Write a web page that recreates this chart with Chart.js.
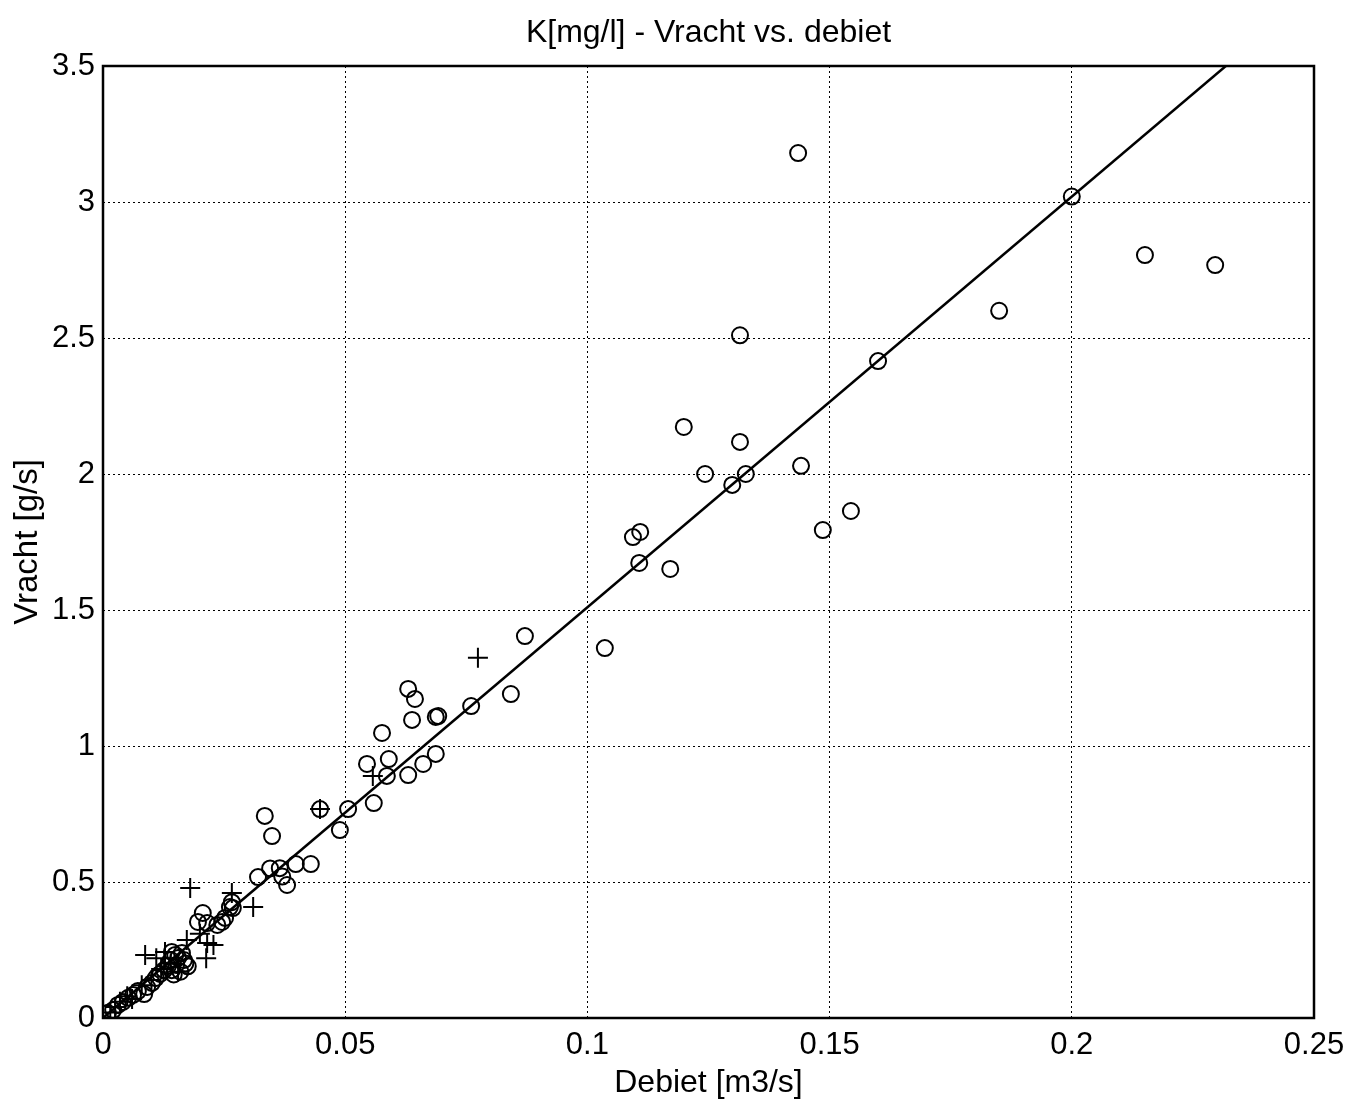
<!DOCTYPE html>
<html>
<head>
<meta charset="utf-8">
<script src="https://cdn.jsdelivr.net/npm/chart.js@4.4.1/dist/chart.umd.min.js"></script>
<style>
  html, body { margin: 0; padding: 0; background: #fff; }
</style>
</head>
<body>
<canvas id="grafico" width="1347" height="1103"></canvas>
<script>
// K[mg/l] - vracht tegen debiet
var titel = 'K[mg/l] - Vracht vs. debiet';
var xTitel = 'Debiet [m3/s]';
var yTitel = 'Vracht [g/s]';

// metingen (cirkels)
var debietO = [0.1435, 0.2000, 0.2151, 0.2296, 0.1850, 0.1315, 0.1600, 0.1199, 0.1315, 0.1243,
  0.1327, 0.1441, 0.1299, 0.1486, 0.1544, 0.1094, 0.1109, 0.1107, 0.1171, 0.1036,
  0.0871, 0.0842, 0.0760, 0.0630, 0.0644, 0.0638, 0.0687, 0.0692, 0.0576, 0.0590,
  0.0545, 0.0661, 0.0687, 0.0630, 0.0586, 0.0559, 0.0506, 0.0448, 0.0489, 0.0334,
  0.0349, 0.0398, 0.0429, 0.0365, 0.0380, 0.0320, 0.0345, 0.0370,
  0.0266, 0.0262, 0.0268, 0.0206, 0.0196, 0.0215, 0.0236, 0.0246, 0.0252,
  0.0010, 0.0021, 0.0031, 0.0041, 0.0052, 0.0062, 0.0072, 0.0085, 0.0091, 0.0101,
  0.0109, 0.0118, 0.0126, 0.0134, 0.0142, 0.0140, 0.0149, 0.0142, 0.0155, 0.0163,
  0.0167, 0.0151, 0.0170, 0.0160, 0.0146, 0.0175];
var vrachtO = [3.18, 3.02, 2.805, 2.768, 2.60, 2.51, 2.415, 2.173, 2.118, 2.00,
  2.00, 2.03, 1.96, 1.794, 1.864, 1.768, 1.787, 1.673, 1.651, 1.36,
  1.404, 1.191, 1.147, 1.21, 1.173, 1.096, 1.107, 1.11, 1.048, 0.952,
  0.934, 0.934, 0.971, 0.893, 0.89, 0.79, 0.768, 0.768, 0.691, 0.743,
  0.669, 0.566, 0.566, 0.551, 0.489, 0.518, 0.55, 0.52,
  0.426, 0.408, 0.404, 0.386, 0.353, 0.349, 0.342, 0.353, 0.368,
  0.018, 0.029, 0.048, 0.059, 0.074, 0.085, 0.099, 0.088, 0.114, 0.129,
  0.147, 0.162, 0.176, 0.191, 0.176, 0.213, 0.232, 0.243, 0.221, 0.239,
  0.213, 0.195, 0.20, 0.17, 0.16, 0.19];

// metingen (kruisjes)
var debietP = [0.0774, 0.0557, 0.0448, 0.0180, 0.0266, 0.0310, 0.0173, 0.0215, 0.0228, 0.0087,
  0.0128, 0.0213, 0.0140, 0.0120, 0.0080, 0.0050, 0.0035, 0.0025, 0.0015, 0.0060,
  0.0100, 0.0155, 0.0200, 0.0110];
var vrachtP = [1.324, 0.89, 0.768, 0.478, 0.46, 0.408, 0.287, 0.276, 0.268, 0.232,
  0.243, 0.22, 0.20, 0.18, 0.12, 0.08, 0.06, 0.04, 0.02, 0.07,
  0.14, 0.17, 0.31, 0.22];

// regressielijn
var lijnX = [0, 0.2318];
var lijnY = [0, 3.5];

var xTicks = [0, 0.05, 0.1, 0.15, 0.2, 0.25];
var yTicks = [0, 0.5, 1, 1.5, 2, 2.5, 3, 3.5];

function punten(xs, ys) {
  return xs.map(function (x, i) { return { x: x, y: ys[i] }; });
}

var fontNaam = '"Liberation Sans", Arial, sans-serif';

var titelPlugin = {
  id: 'titelPlugin',
  afterDraw: function (chart) {
    var c = chart.ctx;
    var area = chart.chartArea;
    c.save();
    c.fillStyle = '#000';
    c.font = '32px ' + fontNaam;
    c.textAlign = 'center';
    c.textBaseline = 'middle';
    c.fillText(titel, (area.left + area.right) / 2, 33);
    c.restore();
  }
};

var randPlugin = {
  id: 'rand',
  beforeDatasetsDraw: function (chart) {
    var c = chart.ctx, a = chart.chartArea;
    c.save();
    c.strokeStyle = '#000';
    c.lineWidth = 2.5;
    c.setLineDash([]);
    c.strokeRect(a.left, a.top, a.right - a.left, a.bottom - a.top);
    c.restore();
  }
};

var ctx = document.getElementById('grafico').getContext('2d');
new Chart(ctx, {
  type: 'scatter',
  data: {
    datasets: [{
      label: 'lijn',
      type: 'line',
      data: punten(lijnX, lijnY),
      borderColor: '#000',
      borderWidth: 2.5,
      pointRadius: 0,
      fill: false
    }, {
      label: 'o',
      data: punten(debietO, vrachtO),
      pointStyle: 'circle',
      pointRadius: 8,
      borderColor: '#000',
      borderWidth: 2,
      backgroundColor: 'rgba(0,0,0,0)'
    }, {
      label: '+',
      data: punten(debietP, vrachtP),
      pointStyle: 'cross',
      pointRadius: 10,
      borderColor: '#000',
      borderWidth: 2
    }]
  },
  options: {
    responsive: false,
    animation: false,
    layout: { padding: { top: 66, right: 33, left: 0, bottom: 0 } },
    plugins: {
      legend: { display: false },
      tooltip: { enabled: false },
      title: { display: false }
    },
    scales: {
      x: {
        type: 'linear',
        min: 0,
        max: 0.25,
        afterFit: function (s) { s.height = 85; s.paddingLeft = 0; s.paddingRight = 0; },
        afterBuildTicks: function (s) { s.ticks = xTicks.map(function (v) { return { value: v }; }); },
        ticks: {
          color: '#000',
          font: { family: fontNaam, size: 31 },
          padding: 9,
          maxRotation: 0,
          callback: function (v) { return String(v); }
        },
        grid: { color: '#000', lineWidth: 1, drawTicks: false },
        border: { display: false, dash: [2, 3] },
        title: { display: true, text: xTitel, color: '#000', font: { family: fontNaam, size: 32 }, padding: { top: 0, bottom: 1 } }
      },
      y: {
        type: 'linear',
        min: 0,
        max: 3.5,
        afterFit: function (s) { s.width = 103; s.paddingTop = 0; s.paddingBottom = 0; },
        afterBuildTicks: function (s) { s.ticks = yTicks.map(function (v) { return { value: v }; }); },
        ticks: {
          color: '#000',
          font: { family: fontNaam, size: 31 },
          padding: 8,
          callback: function (v) { return String(v); }
        },
        grid: { color: '#000', lineWidth: 1, drawTicks: false },
        border: { display: false, dash: [2, 3] },
        title: { display: true, text: yTitel, color: '#000', font: { family: fontNaam, size: 33 }, padding: { top: 8, bottom: 0 } }
      }
    }
  },
  plugins: [titelPlugin, randPlugin]
});
</script>
</body>
</html>
